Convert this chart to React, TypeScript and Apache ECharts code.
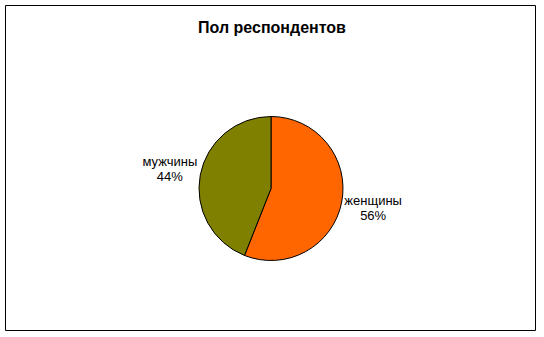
import React, { useEffect, useRef } from "react";
import * as echarts from "echarts";

const categories = ["женщины", "мужчины"];
const values = [56, 44];
const colors = ["#FF6600", "#808000"];
const titleText = "Пол респондентов";

const CX = 271;
const CY = 188.5;
const R = 72;
const LABEL_R = [104, 103];

export default function App() {
  const ref = useRef<HTMLDivElement>(null);
  useEffect(() => {
    if (!ref.current) return;
    const chart = echarts.init(ref.current, undefined, { renderer: "svg" });
    const total = values.reduce((a, b) => a + b, 0);
    const option = {
      animation: false,
      backgroundColor: "#ffffff",
      title: {
        text: titleText,
        left: "center",
        top: 14,
        textStyle: {
          fontFamily: "Liberation Sans",
          fontSize: 16,
          fontWeight: "bold",
          color: "#000",
        },
      },
      graphic: [
        {
          type: "rect",
          shape: { x: 5.5, y: 5.5, width: 530, height: 325 },
          style: { fill: "none", stroke: "#000", lineWidth: 1 },
          silent: true,
        },
      ],
      series: [
        {
          type: "pie",
          center: [CX, CY],
          radius: R,
          startAngle: 90,
          clockwise: true,
          avoidLabelOverlap: false,
          data: categories.map((c, i) => ({
            name: c,
            value: values[i],
            itemStyle: { color: colors[i] },
          })),
          itemStyle: { borderColor: "#000", borderWidth: 1 },
          emphasis: { disabled: true },
          label: {
            show: true,
            position: "outside",
            formatter: (p: any) => `${p.name}\n${p.value}%`,
            fontFamily: "Liberation Sans",
            fontSize: 13,
            lineHeight: 15,
            color: "#000",
            align: "center",
          },
          labelLine: { show: false },
          labelLayout: (params: any) => {
            const i = params.dataIndex;
            let before = 0;
            for (let k = 0; k < i; k++) before += values[k];
            const midFrac = (before + values[i] / 2) / total;
            const ang = ((90 - midFrac * 360) * Math.PI) / 180;
            const r = LABEL_R[i];
            return {
              x: CX + r * Math.cos(ang),
              y: CY - r * Math.sin(ang),
              align: "center",
              verticalAlign: "middle",
            };
          },
        },
      ],
    };
    chart.setOption(option as any);
    return () => chart.dispose();
  }, []);
  return (
    <div
      ref={ref}
      style={{ position: "absolute", left: 0, top: 0, width: 544, height: 337 }}
    />
  );
}
